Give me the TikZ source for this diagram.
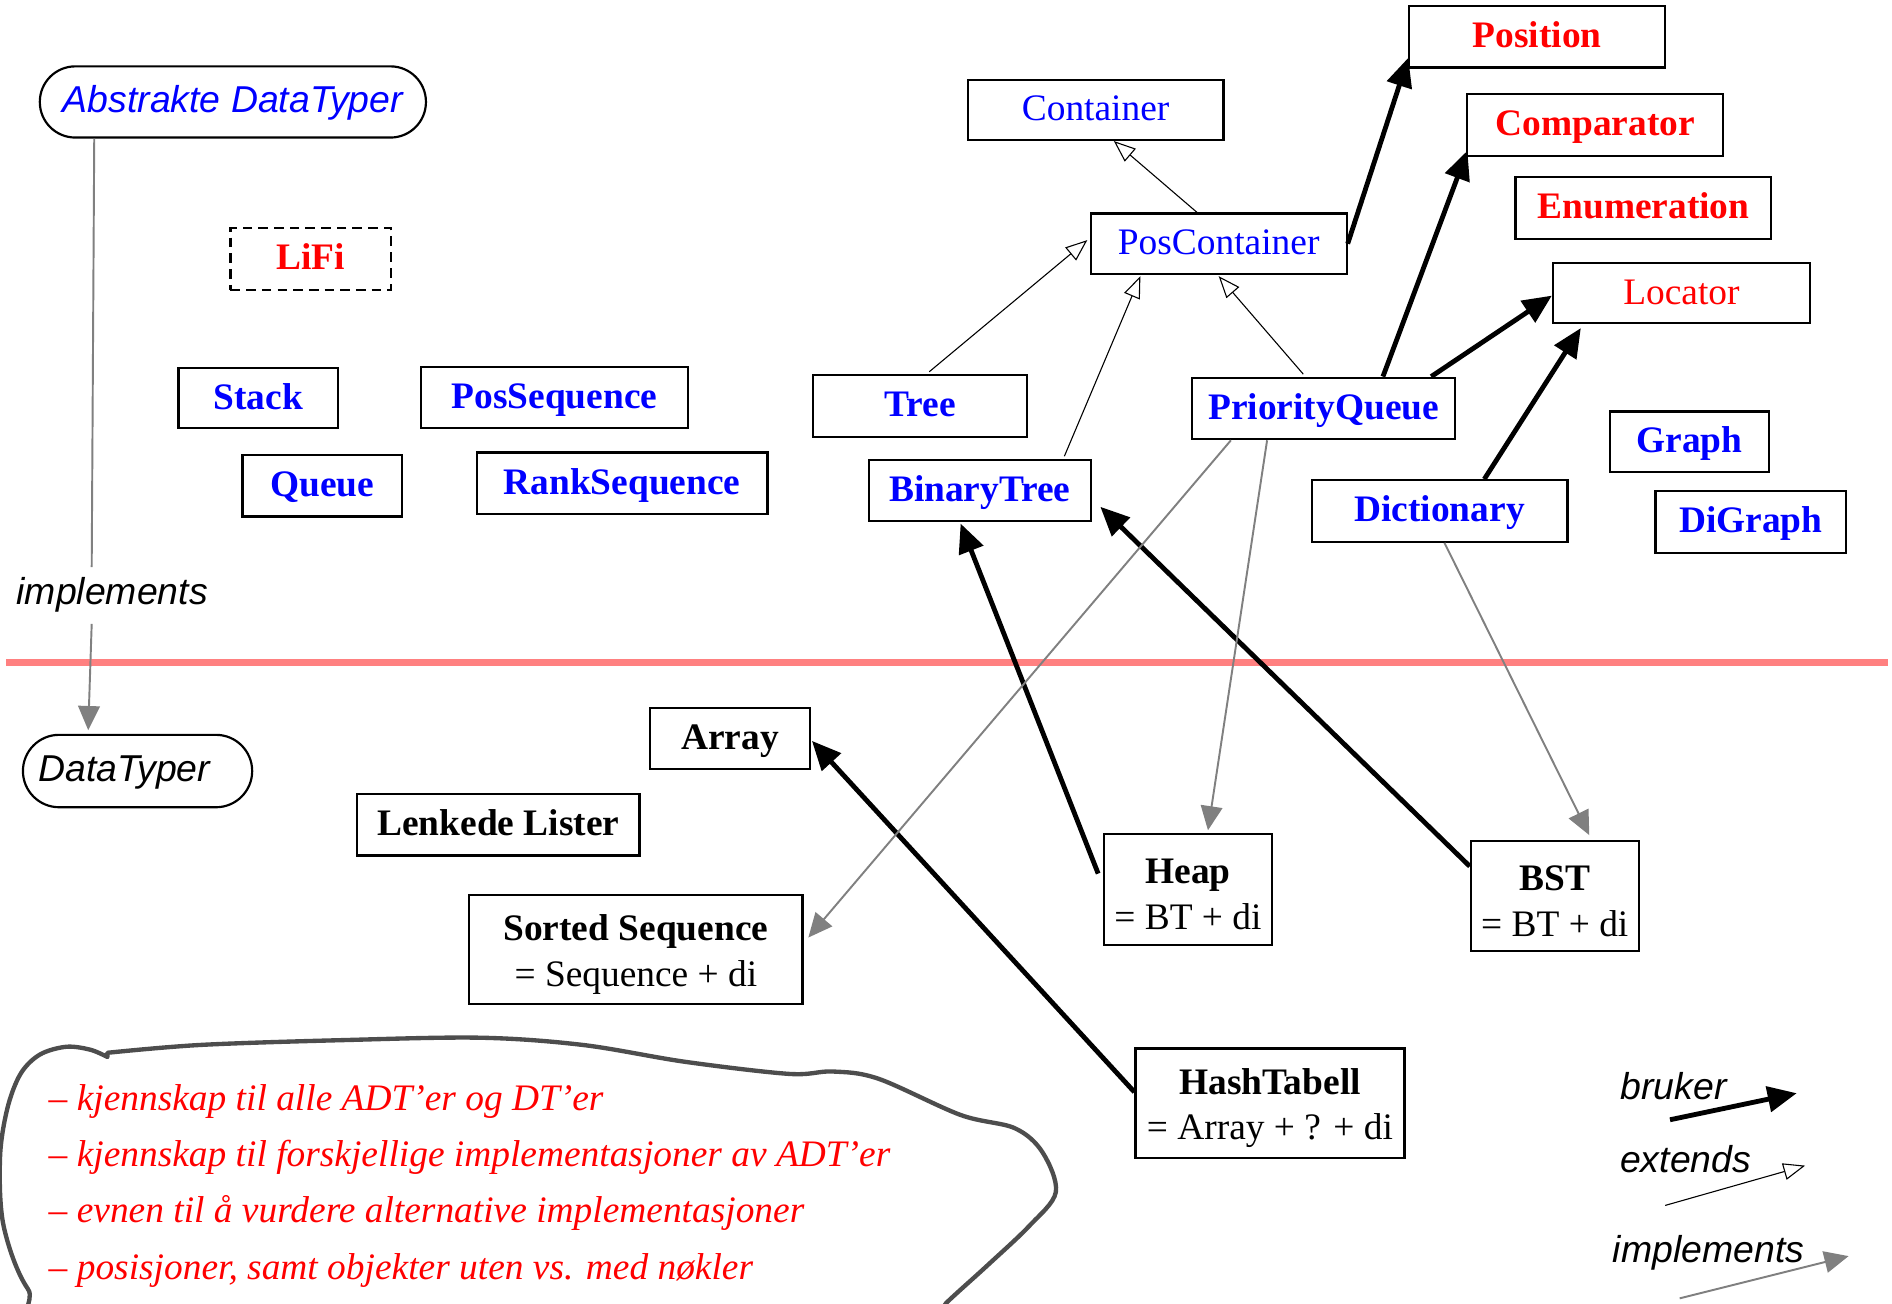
\documentclass[tikz,border=0pt]{standalone}
\usepackage{fontspec}
\setmainfont{Liberation Serif}
\setsansfont{Liberation Sans}
\usetikzlibrary{arrows.meta,calc}
\definecolor{impl}{HTML}{808080}
\definecolor{sepred}{HTML}{FF8080}
\definecolor{cloudgray}{HTML}{4D4D4D}
\newcommand\myfs{\fontsize{15.5}{19}\selectfont}
\newcommand\topstrut{\rule{0pt}{14.5pt}}
\begin{document}
\begin{tikzpicture}[x=0.5pt,y=-0.5pt,
  box/.style={draw,line width=0.9pt,inner sep=0pt,text height=11pt,text depth=2pt},
  box2/.style={draw,line width=0.9pt,inner sep=0pt,align=center,font=\myfs},
  blueb/.style={text=blue,font=\myfs\bfseries},
  bluer/.style={text=blue,font=\myfs},
  redb/.style={text=red,font=\myfs\bfseries},
  redr/.style={text=red,font=\myfs},
  blackb/.style={text=black,font=\myfs\bfseries},
  rbox/.style={draw,line width=0.9pt,inner sep=0pt,text height=11pt,text depth=2pt,font=\myfs\sffamily\itshape},
  sanslabel/.style={inner sep=5pt,text height=11pt,text depth=2pt,font=\myfs\sffamily\itshape},
  listtext/.style={inner sep=0pt,anchor=west,text=red,text height=11pt,text depth=2pt,font=\myfs\itshape},
  bruker/.style={line width=2pt,-{Triangle[length=12pt,width=10.5pt]}},
  extends/.style={line width=0.45pt,-{Triangle[open,length=9pt,width=7pt]}},
  implarrow/.style={impl,line width=0.8pt,-{Triangle[length=10pt,width=9pt]}},
]
\useasboundingbox (0,0) rectangle (1568,1080);

% separator
\coordinate (sepL) at (5,549);
\coordinate (sepR) at (1565,549);
\draw[sepred,line width=3pt] (sepL) -- (sepR);

% cloud
\begin{scope}
\clip (0,0) rectangle (1568,1080);
\draw[cloudgray,line width=1.8pt,line join=round] plot[smooth,tension=0.55] coordinates {
 (89,872.5) (166,866) (284,862) (398,860) (483,866) (568,880) (654,890) (690,888) (728,894)
 (796,924) (841,935) (864,955) (875,988) (853,1016) (818,1049) (784,1080)
 (760,1105) (400,1112) (60,1098) (23,1068) (3,1016) (0,960) (6,919) (17,890)
 (33,874) (55,867.5) (75,870) (89,876)} -- cycle;
\end{scope}

% ADT area
\node[rbox,text=blue,rounded corners=14.7pt,minimum width=160pt,minimum height=29.5pt] (adt) at (193,84.5) {Abstrakte DataTyper};
\node[box,redb,dash pattern=on 4pt off 2.5pt,minimum width=66.5pt,minimum height=25.5pt] (lifi) at (257.5,214.5) {LiFi};
\node[box,blueb,minimum width=66pt,minimum height=25pt] (stack) at (214,330) {Stack};
\node[box,blueb,minimum width=110.5pt,minimum height=25.5pt] (posseq) at (459.5,329.5) {PosSequence};
\node[box,blueb,minimum width=66pt,minimum height=25.5pt] (queue) at (267,402.5) {Queue};
\node[box,blueb,minimum width=120.5pt,minimum height=25.5pt] (rankseq) at (515.5,400.5) {RankSequence};
\node[box,bluer,minimum width=106pt,minimum height=25pt] (cont) at (908,91) {Container};
\node[box,bluer,minimum width=106pt,minimum height=25pt] (pc) at (1010,202) {PosContainer};
\node[box,redb,minimum width=106pt,minimum height=25.5pt] (pos) at (1274,30.5) {Position};
\node[box,redb,minimum width=106pt,minimum height=25.5pt] (comp) at (1322,103.5) {Comparator};
\node[box,redb,minimum width=106pt,minimum height=25.5pt] (enum) at (1362,172.5) {Enumeration};
\node[box,redr,minimum width=106.5pt,minimum height=25pt] (loc) at (1393.5,243) {Locator};
\node[box,blueb,minimum width=88.5pt,minimum height=25.5pt] (tree) at (762.5,336.5) {Tree};
\node[box,blueb,minimum width=109pt,minimum height=25.5pt] (pq) at (1097,338.5) {PriorityQueue};
\node[box,blueb,minimum width=92pt,minimum height=25.5pt] (bt) at (812,406.5) {BinaryTree};
\node[box,blueb,minimum width=106pt,minimum height=25.5pt] (dict) at (1193,423.5) {Dictionary};
\node[box,blueb,minimum width=66pt,minimum height=25pt] (graph) at (1400,366) {Graph};
\node[box,blueb,minimum width=79pt,minimum height=25.5pt] (digraph) at (1451,432.5) {DiGraph};

% DT area
\node[rbox,rounded corners=15pt,minimum width=95pt,minimum height=30pt] (dt) at (114,639) {\hspace*{-11pt}DataTyper};
\node[box,blackb,minimum width=66pt,minimum height=25pt] (array) at (605,612) {Array};
\node[box,blackb,minimum width=117pt,minimum height=25.5pt] (lenk) at (413,683.5) {Lenkede Lister};
\node[box2,minimum width=138pt,minimum height=45pt] (ss) at (527,787) {\topstrut\textbf{Sorted Sequence}\\= Sequence + di};
\node[box2,minimum width=69.5pt,minimum height=46pt] (heap) at (984.5,737) {\topstrut\textbf{Heap}\\= BT + di};
\node[box2,minimum width=69.5pt,minimum height=45.5pt] (bst) at (1288.5,742.5) {\topstrut\textbf{BST}\\= BT + di};
\node[box2,minimum width=111.5pt,minimum height=45.5pt] (hash) at (1052.5,914.5) {\topstrut\textbf{HashTabell}\\= Array + ? + di};

% ADT -> DT implements
\node[sanslabel] (implt) at (93,492) {implements};
\coordinate (ia) at (76,470);
\coordinate (ib) at (76,517);
\draw[impl,line width=0.8pt] ($(adt.south west)+(46,0)$) -- (ia);
\draw[implarrow] (ib) -- ($(dt.north west)+(55,-3)$);

% extends
\draw[extends] ($(pc.north west)+(89,0)$) -- ($(cont.south west)+(122,0)$);
\draw[extends] ($(tree.north west)+(97,-2)$) -- ($(pc.west)+(-2,-3)$);
\draw[extends] ($(bt.north west)+(163,-2)$) -- ($(pc.south west)+(42,1)$);
\draw[extends] ($(pq.north west)+(93,-2)$) -- ($(pc.south)+(0,1)$);

% bruker
\draw[bruker] (pc.east) -- ($(pos.south west)+(0,-9)$);
\draw[bruker] ($(pq.north west)+(159,0)$) -- ($(comp.south west)+(1,-5)$);
\draw[bruker] ($(pq.north west)+(199,0)$) -- ($(loc.west)+(0,2)$);
\draw[bruker] ($(dict.north west)+(144,0)$) -- ($(loc.south west)+(24,3)$);
\draw[bruker] ($(heap.west)+(-4,-13)$) -- ($(bt.south west)+(77,1)$);
\draw[bruker] ($(bst.west)+(0,-24.5)$) -- ($(bt.east)+(7,13.5)$);
\draw[bruker] ($(hash.west)+(0,-9.5)$) -- ($(array.east)+(1,2)$);

% implements
\draw[implarrow] ($(pq.south west)+(33,0)$) -- ($(ss.east)+(4,-10)$);
\draw[implarrow] ($(pq.south west)+(63,0)$) -- ($(heap.north west)+(87,-2)$);
\draw[implarrow] ($(dict.south west)+(111,0)$) -- ($(bst.north west)+(99,-4)$);

% list
\node[listtext] (l1) at (40,911) {– kjennskap til alle ADT’er og DT’er};
\node[listtext] (l2) at (40,958) {– kjennskap til forskjellige implementasjoner av ADT’er};
\node[listtext] (l3) at (40,1004) {– evnen til å vurdere alternative implementasjoner};
\node[listtext] (l4) at (40,1051) {– posisjoner, samt objekter uten vs. med nøkler};

% legend
\node[sanslabel,inner sep=0pt] (lgb) at (1387,902) {bruker};
\node[sanslabel,inner sep=0pt] (lge) at (1397,963) {extends};
\node[sanslabel,inner sep=0pt] (lgi) at (1416,1037) {implements};
\coordinate (b1) at (1384,928);
\coordinate (b2) at (1489,906);
\coordinate (e1) at (1380,999);
\coordinate (e2) at (1496,966);
\coordinate (m1) at (1392,1076);
\coordinate (m2) at (1532,1041);
\draw[bruker] (b1) -- (b2);
\draw[extends] (e1) -- (e2);
\draw[implarrow] (m1) -- (m2);
\end{tikzpicture}
\end{document}
